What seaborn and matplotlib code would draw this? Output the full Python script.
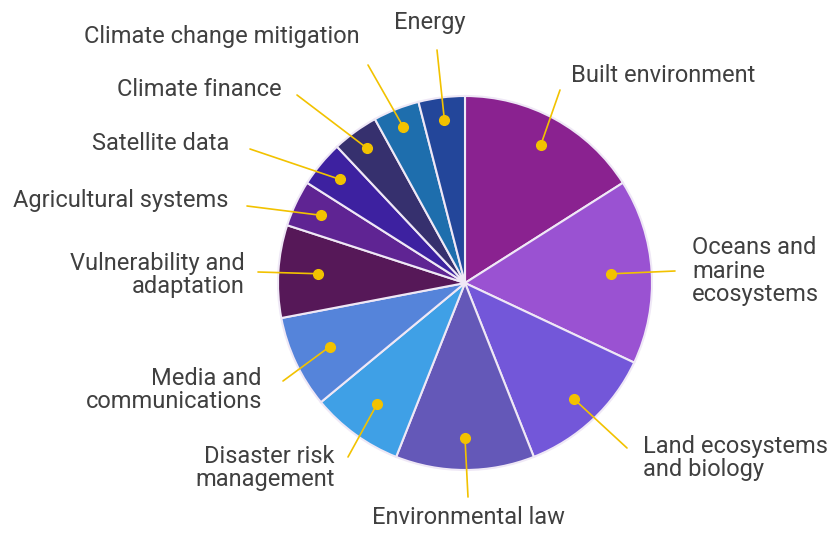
import matplotlib
matplotlib.use("Agg")
import matplotlib.pyplot as plt
import seaborn as sns
import numpy as np

# ---- data ----
categories = ["Built environment", "Oceans and\nmarine\necosystems", "Land ecosystems\nand biology",
              "Environmental law", "Disaster risk\nmanagement", "Media and\ncommunications",
              "Vulnerability and\nadaptation", "Agricultural systems", "Satellite data",
              "Climate finance", "Climate change mitigation", "Energy"]
counts = [4, 4, 3, 3, 2, 2, 2, 1, 1, 1, 1, 1]
colors = ["#8A2290", "#9A52D2", "#7357D9", "#6458B8", "#3FA0E6", "#5584DA",
          "#561858", "#5F2493", "#3D21A0", "#36306E", "#1E6EAD", "#23469A"]

# ---- layout (pixels) ----
W, H = 833, 533
center = (465, 283)
radius = 187
dot_frac = [0.84, 0.78, 0.85, 0.83, 0.80, 0.80, 0.79, 0.85, 0.87, 0.89, 0.90, 0.88]
line_end = [(560, 90), (675, 271), (627, 448), (468, 497), (348, 457), (283, 381),
            (258, 272), (247, 206), (250, 149), (297, 95), (368, 65), (437, 50)]
text_pos = [(571, 75, "left"), (692, 271, "left"), (643, 458, "left"), (468, 518, "center"),
            (335, 468, "right"), (262, 390, "right"), (245, 275, "right"), (228, 200, "right"),
            (229, 143, "right"), (282, 90, "right"), (360, 37, "right"), (430, 22, "center")]

sns.set_theme(style="white")
plt.rcParams['font.family'] = ['Roboto', 'DejaVu Sans']

fig = plt.figure(figsize=(W / 100, H / 100), dpi=100)
ax = fig.add_axes([0, 0, 1, 1])
palette = sns.color_palette(colors)

wedges, _ = ax.pie(counts, colors=palette, startangle=-90, counterclock=True,
                   center=center, radius=radius,
                   wedgeprops=dict(edgecolor="#efe8f6", linewidth=1.5))
ax.set_xlim(0, W)
ax.set_ylim(H, 0)
ax.set_aspect("equal")
ax.axis("off")

gold = "#F2C200"
for w, f, le, (tx, ty, ha), lab in zip(wedges, dot_frac, line_end, text_pos, categories):
    mid = np.deg2rad((w.theta1 + w.theta2) / 2)
    dx = center[0] + radius * f * np.cos(mid)
    dy = center[1] + radius * f * np.sin(mid)
    ax.plot([dx, le[0]], [dy, le[1]], color=gold, lw=1.2, zorder=3)
    ax.plot([dx], [dy], "o", color=gold, ms=7, zorder=4)
    ax.text(tx, ty, lab, ha=ha, va="center", fontsize=17, color="#404040",
            linespacing=1.05, multialignment=ha if ha != "center" else "center")

fig.savefig("out.png", dpi=100)
